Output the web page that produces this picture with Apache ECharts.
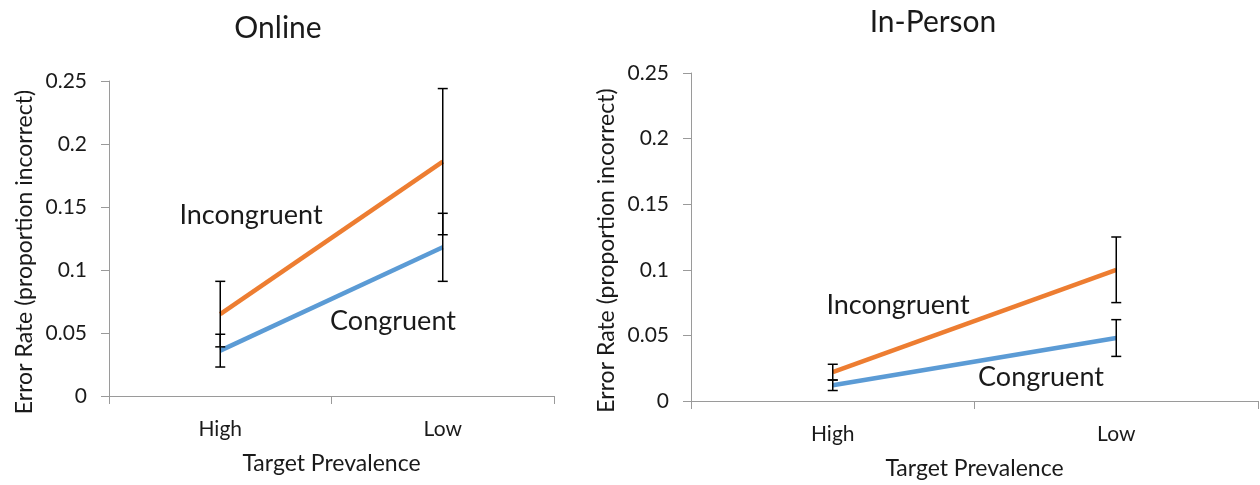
<!DOCTYPE html>
<html>
<head>
<meta charset="utf-8">
<script src="https://cdn.jsdelivr.net/npm/echarts@6/dist/echarts.min.js"></script>
<style>
  html, body { margin: 0; padding: 0; background: #fff; }
  #chart { width: 1260px; height: 485px; }
</style>
</head>
<body>
<div id="chart"></div>
<script>
// data
const categories = ["High", "Low"];

const onlineIncongruent = [0.065, 0.186];
const onlineIncongruentErr = [0.026, 0.058];
const onlineCongruent = [0.036, 0.118];
const onlineCongruentErr = [0.013, 0.027];

const inPersonIncongruent = [0.022, 0.1];
const inPersonIncongruentErr = [0.006, 0.025];
const inPersonCongruent = [0.012, 0.048];
const inPersonCongruentErr = [0.004, 0.014];

const FONT = "Lato";
const TEXT = "#1a1a1a";
const AXIS = "#9a9a9a";
const ORANGE = "#ED7D31";
const BLUE = "#5B9BD5";

const chart = echarts.init(document.getElementById("chart"));

const errRows = (vals, errs) => vals.map((v, i) => [i, v, errs[i]]);

const errorBarItem = (params, api) => {
  const x = api.value(0);
  const v = api.value(1);
  const e = api.value(2);
  const top = api.coord([x, v + e]);
  const bot = api.coord([x, v - e]);
  const half = 5;
  const style = { stroke: "#000", lineWidth: 1.5 };
  return {
    type: "group",
    children: [
      { type: "line", shape: { x1: top[0], y1: top[1], x2: bot[0], y2: bot[1] }, style },
      { type: "line", shape: { x1: top[0] - half, y1: top[1], x2: top[0] + half, y2: top[1] }, style },
      { type: "line", shape: { x1: bot[0] - half, y1: bot[1], x2: bot[0] + half, y2: bot[1] }, style },
    ],
  };
};

const xAxisFor = (gridIndex) => ({
  type: "category",
  gridIndex,
  data: categories,
  boundaryGap: true,
  name: "Target Prevalence",
  nameLocation: "middle",
  nameGap: 56,
  nameTextStyle: { fontFamily: FONT, fontSize: 23, color: TEXT },
  axisLine: { lineStyle: { color: AXIS, width: 1 } },
  axisTick: { show: true, length: 8, alignWithLabel: false, lineStyle: { color: AXIS } },
  axisLabel: { fontFamily: FONT, fontSize: 21, color: TEXT, margin: 23 },
  splitLine: { show: false },
});

const yAxisFor = (gridIndex, margin) => ({
  type: "value",
  gridIndex,
  min: 0,
  max: 0.25,
  interval: 0.05,
  name: "Error Rate (proportion incorrect)",
  nameLocation: "middle",
  nameGap: 73,
  nameTextStyle: { fontFamily: FONT, fontSize: 23, color: TEXT, padding: [0, 27, 0, 0] },
  axisLine: { show: true, lineStyle: { color: AXIS, width: 1 } },
  axisTick: { show: true, length: 8, lineStyle: { color: AXIS } },
  axisLabel: { fontFamily: FONT, fontSize: 21, color: TEXT, margin },
  splitLine: { show: false },
});

const lineSeries = (name, data, color, idx) => ({
  name,
  type: "line",
  xAxisIndex: idx,
  yAxisIndex: idx,
  data,
  symbol: "none",
  lineStyle: { color, width: 4.5 },
  z: 2,
});

const errSeries = (vals, errs, idx) => ({
  type: "custom",
  xAxisIndex: idx,
  yAxisIndex: idx,
  data: errRows(vals, errs),
  encode: { x: 0, y: 1 },
  renderItem: errorBarItem,
  z: 3,
});

const label = (text, x, y, size) => ({
  type: "text",
  x,
  y,
  style: {
    text,
    align: "center",
    verticalAlign: "middle",
    fontFamily: FONT,
    fontSize: size,
    fill: TEXT,
  },
});

chart.setOption({
  animation: false,
  grid: [
    { left: 109, top: 81, width: 445, height: 315 },
    { left: 691, top: 73, width: 567, height: 330 },
  ],
  xAxis: [xAxisFor(0), xAxisFor(1)],
  yAxis: [yAxisFor(0, 22), yAxisFor(1, 22)],
  series: [
    lineSeries("Incongruent", onlineIncongruent, ORANGE, 0),
    lineSeries("Congruent", onlineCongruent, BLUE, 0),
    errSeries(onlineIncongruent, onlineIncongruentErr, 0),
    errSeries(onlineCongruent, onlineCongruentErr, 0),
    lineSeries("Incongruent", inPersonIncongruent, ORANGE, 1),
    lineSeries("Congruent", inPersonCongruent, BLUE, 1),
    errSeries(inPersonIncongruent, inPersonIncongruentErr, 1),
    errSeries(inPersonCongruent, inPersonCongruentErr, 1),
  ],
  graphic: [
    label("Online", 278, 28, 30),
    label("In-Person", 933, 22, 30),
    label("Incongruent", 251, 215, 27),
    label("Congruent", 393, 321, 27),
    label("Incongruent", 898, 305, 27),
    label("Congruent", 1041, 377, 27),
  ],
});
</script>
</body>
</html>
